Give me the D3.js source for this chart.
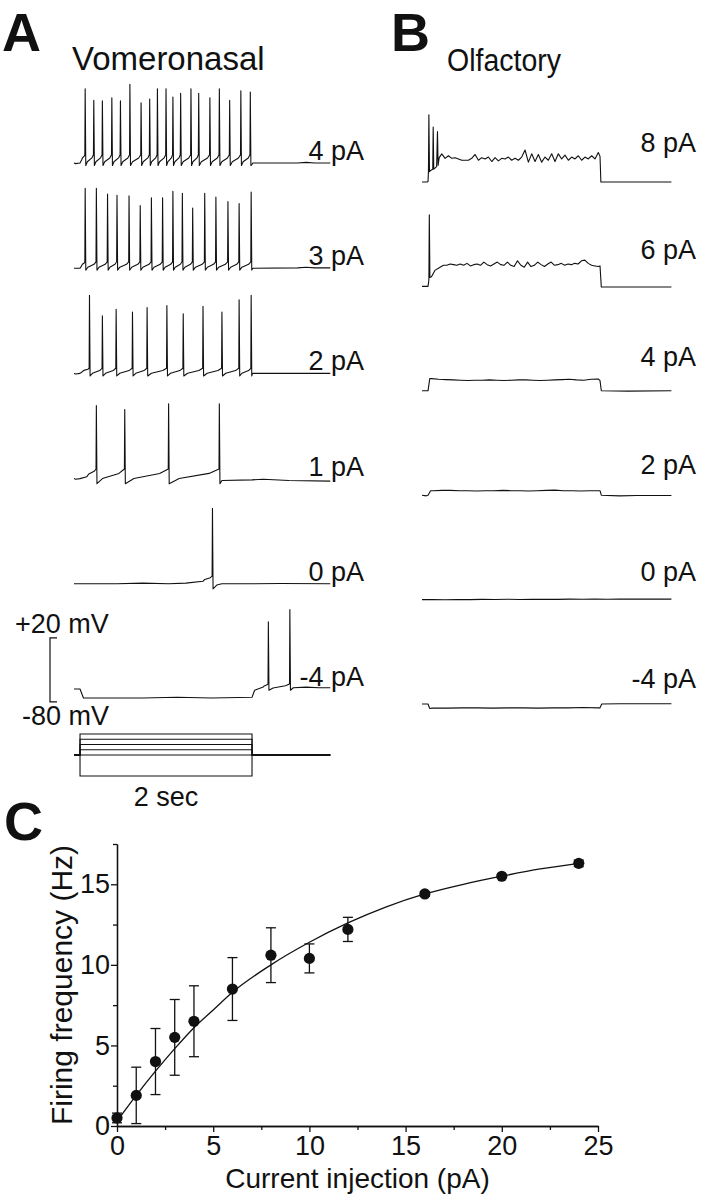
<!DOCTYPE html>
<html>
<head>
<meta charset="utf-8">
<script src="https://cdn.jsdelivr.net/npm/d3@7"></script>
<style>
  body { margin: 0; background: #fff; }
  svg { display: block; }
  text { font-family: "Liberation Sans", Arial, Helvetica, sans-serif; fill: #111; }
</style>
</head>
<body>
<svg id="fig" width="702" height="1199"></svg>
<script>
// ---------- shared protocol values ----------
const restV = -60;             // mV
const stepOn = 0.07, stepOff = 2.07, traceEnd = 2.98;   // s

// ---------- Panel A: vomeronasal neuron ----------
const vnoLabels = ["4 pA", "3 pA", "2 pA", "1 pA", "0 pA", "-4 pA"];
const vnoCurrents = [4, 3, 2, 1, 0, -4];

const vno4Times = [0.13, 0.23, 0.33, 0.44, 0.54, 0.65, 0.78, 0.88, 0.97, 1.07, 1.15, 1.24, 1.36, 1.45, 1.58, 1.69, 1.81, 1.94, 2.05];
const vno4Peaks = [56, 38, 37, 42, 37, 63, 34, 40, 56, 56, 43, 49, 56, 49, 42, 56, 38, 53, 51];
const vno3Times = [0.13, 0.26, 0.39, 0.50, 0.64, 0.77, 0.90, 1.03, 1.15, 1.26, 1.38, 1.52, 1.65, 1.79, 1.92, 2.06];
const vno3Peaks = [65, 65, 56, 54, 53, 38, 50, 50, 60, 57, 34, 57, 51, 44, 41, 59];
const vno2Times = [0.18, 0.33, 0.49, 0.68, 0.85, 1.08, 1.27, 1.50, 1.72, 1.92, 2.06];
const vno2Peaks = [62, 30, 40, 36, 43, 46, 33, 45, 36, 55, 62];
const vno1Times = [0.26, 0.59, 1.10, 1.69];
const vno1Peaks = [54, 48, 57, 57];
const vno0Times = [1.61];
const vno0Peaks = [58];
const vnoN4Times = [2.26, 2.51];
const vnoN4Peaks = [45, 64];

const vnoTrough = [-64, -63, -64, -68, -68, -62];
const vnoThreshold = [-47, -50, -52, -45, -48, -52];

// membrane potential before first spike / after last spike, [s, mV]
const vno4Pre = [[0.02, -61], [0.07, -60], [0.09, -55]];
const vno3Pre = [[0.07, -60], [0.09, -56]];
const vno2Pre = [[0.02, -61], [0.07, -60], [0.1, -57]];
const vno1Pre = [[0.02, -61], [0.07, -60], [0.15, -57]];
const vno0Pre = [[0.5, -60], [0.8, -59], [1.1, -60], [1.3, -59], [1.5, -56]];
const vnoN4Pre = [[0.07, -60], [0.11, -74], [0.8, -74], [1.2, -73], [1.6, -74], [2.07, -73], [2.1, -62], [2.2, -57]];
const vno4Tail = [[2.07, -62], [2.08, -60], [2.6, -60], [2.7, -59], [2.8, -60], [2.98, -60]];
const vno3Tail = [[2.07, -62], [2.08, -60], [2.6, -59.5], [2.7, -58.5], [2.8, -59.5], [2.98, -59.5]];
const vno2Tail = [[2.07, -62], [2.08, -60], [2.5, -60], [2.98, -60]];
const vno1Tail = [[1.72, -63], [2.07, -62], [2.2, -61], [2.5, -63], [2.98, -64]];
const vno0Tail = [[1.66, -62], [1.72, -60], [2.0, -60], [2.4, -59.5], [2.98, -60]];
const vnoN4Tail = [[2.55, -58], [2.7, -57], [2.85, -58], [2.98, -58]];

// ---------- Panel B: olfactory neuron ----------
const olfLabels = ["8 pA", "6 pA", "4 pA", "2 pA", "0 pA", "-4 pA"];

const olf8Early = [[0.06, -60], [0.07, -59], [0.075, -44], [0.08, 45], [0.087, -44], [0.1, -42], [0.125, -40], [0.13, 26], [0.137, -40], [0.17, -36], [0.18, 19], [0.187, -34], [0.2, -22]];
const olf8Plateau = [-16, -23, -19, -23, -22, -24, -26, -26, -26, -23, -17, -26, -22, -24, -21, -28, -22, -27, -23, -24, -21, -26, -23, -26, -21, -10, -29, -16, -28, -17, -29, -21, -26, -16, -28, -16, -24, -18, -26, -21, -24, -19, -26, -21, -24, -19, -24, -14];
const olf8Tail = [[2.07, -20], [2.08, -60], [2.9, -60]];

const olf6Early = [[0.07, -60], [0.08, -50], [0.085, 52], [0.092, -46], [0.11, -45], [0.15, -35]];
const olf6Plateau = [-30, -27, -27, -25, -26, -27, -25, -27, -24, -28, -26, -25, -27, -22, -26, -28, -25, -22, -26, -27, -22, -27, -29, -20, -27, -30, -22, -29, -27, -22, -26, -29, -25, -22, -27, -26, -24, -27, -25, -26, -24, -25, -20, -19, -24, -27, -28, -29];
const olf6Tail = [[2.07, -28], [2.085, -61], [2.9, -61]];

const olf4Early = [[0.07, -60], [0.09, -41]];
const olf4Plateau = [-41, -42, -42.5, -43, -43.5, -44, -43.5, -43.5, -43, -43.5, -44, -43.5, -43, -43, -43.5, -44, -43.5, -43, -42.5, -42, -43, -43.5, -42, -41.5];
const olf4Tail = [[2.07, -44], [2.085, -60], [2.4, -60.5], [2.9, -60]];

const olf2Early = [[0.05, -61], [0.07, -60], [0.1, -53]];
const olf2Plateau = [-53, -52.5, -52.5, -53, -53, -53.5, -53, -53, -52.5, -53, -53, -53.5, -53, -52.5, -52, -53, -53, -53.5, -53, -53];
const olf2Tail = [[2.07, -53], [2.085, -60], [2.3, -61], [2.5, -60.5], [2.9, -60.5]];

const olf0Early = [[0.07, -60]];
const olf0Plateau = [-60, -60.3, -59.8, -60, -59.6, -59.9, -59.5, -59.8, -59.6, -59.4, -59.7, -59.3, -59.5, -59.2, -59.5, -59.2];
const olf0Tail = [[2.5, -59.3], [2.9, -59.2]];

const olfN4Early = [[0.07, -60], [0.09, -67]];
const olfN4Plateau = [-66.5, -66.5, -66, -66, -66.5, -66, -66, -66.5, -66, -66, -65.5, -66];
const olfN4Tail = [[2.07, -66], [2.09, -60], [2.3, -59.5], [2.9, -59.5]];

// ---------- Panel C: f-I relation ----------
const currents = [0, 1, 2, 3, 4, 6, 8, 10, 12, 16, 20, 24];
const freqMean = [0.5, 1.9, 4.0, 5.5, 6.5, 8.5, 10.6, 10.4, 12.2, 14.4, 15.5, 16.3];
const freqErr = [0.3, 1.75, 2.05, 2.35, 2.2, 1.95, 1.7, 0.9, 0.75, 0.15, 0.1, 0.2];
const fitX = [0, 1, 2, 3, 4, 5, 6, 8, 10, 12, 14, 16, 18, 20, 22, 24];
const fitY = [0.3, 1.9, 3.4, 4.8, 6.1, 7.2, 8.3, 10.0, 11.4, 12.6, 13.6, 14.4, 15.0, 15.5, 15.95, 16.3];
const xTicks = [0, 5, 10, 15, 20, 25];
const xMinor = [2.5, 7.5, 12.5, 17.5, 22.5];
const yTicks = [0, 5, 10, 15];
const yMinor = [2.5, 7.5, 12.5, 17.5];

// =====================================================
const svg = d3.select("#fig");
const ink = "#111";

// build a spiking trace: ramps between spikes, fast spike, after-hyperpolarization
function spikeTrain(times, peaks, trough, thr, pre, tail) {
  const pts = [[0, restV], ...pre];
  let last = pts[pts.length - 1];
  times.forEach((t, i) => {
    const t0 = last[0], v0 = last[1], t1 = t - 0.004;
    const dv = thr - v0, span = t1 - t0;
    if (span > 0.02) pts.push([t0 + span * 0.2, v0 + dv * 0.35], [t0 + span * 0.8, v0 + dv * 0.7]);
    pts.push([t1, thr], [t, peaks[i]], [t + 0.007, trough]);
    last = [t + 0.007, trough];
  });
  return pts.concat(tail);
}

// build a plateau trace from evenly sampled readings
function plateauTrace(early, plateau, tail, t0, t1) {
  const n = plateau.length;
  const samples = plateau.map((v, i) => [t0 + i * (t1 - t0) / (n - 1), v]);
  return [[0, restV], ...early, ...samples, ...tail];
}

const vScale = d3.scaleLinear().domain([-60, 40]).range([0, -64]);

// ---- panel A ----
const tA = d3.scaleLinear().domain([0, 3]).range([74, 332]);
const rowA = d3.scalePoint().domain(vnoLabels).range([163, 689]);

const vnoData = [
  spikeTrain(vno4Times, vno4Peaks, vnoTrough[0], vnoThreshold[0], vno4Pre, vno4Tail),
  spikeTrain(vno3Times, vno3Peaks, vnoTrough[1], vnoThreshold[1], vno3Pre, vno3Tail),
  spikeTrain(vno2Times, vno2Peaks, vnoTrough[2], vnoThreshold[2], vno2Pre, vno2Tail),
  spikeTrain(vno1Times, vno1Peaks, vnoTrough[3], vnoThreshold[3], vno1Pre, vno1Tail),
  spikeTrain(vno0Times, vno0Peaks, vnoTrough[4], vnoThreshold[4], vno0Pre, vno0Tail),
  spikeTrain(vnoN4Times, vnoN4Peaks, vnoTrough[5], vnoThreshold[5], vnoN4Pre, vnoN4Tail)
];

const gA = svg.append("g");
vnoData.forEach((pts, i) => {
  const y0 = rowA(vnoLabels[i]);
  const line = d3.line().x(d => tA(d[0])).y(d => y0 + vScale(d[1]));
  gA.append("path").attr("d", line(pts))
    .attr("fill", "none").attr("stroke", ink).attr("stroke-width", 1.1).attr("stroke-linejoin", "round");
  gA.append("text").attr("x", 364).attr("y", y0 - 3)
    .attr("text-anchor", "end").attr("font-size", 27).text(vnoLabels[i]);
});

// voltage scale bar (+20 / -80 mV) beside the -4 pA trace
const barRow = rowA("-4 pA");
const barTop = barRow + vScale(20), barBot = barRow + vScale(-80);
gA.append("path")
  .attr("d", `M57,${barTop}H50V${barBot}H57`)
  .attr("fill", "none").attr("stroke", ink).attr("stroke-width", 1.2);
gA.append("text").attr("x", 15).attr("y", barTop - 5).attr("font-size", 27).text("+20 mV");
gA.append("text").attr("x", 22).attr("y", barBot + 23).attr("font-size", 27).text("-80 mV");

// current step protocol
const iScale = d3.scaleLinear().domain([-4, 4]).range([776, 734]);
const stimLine = d3.line().x(d => tA(d[0])).y(d => iScale(d[1]));
vnoCurrents.forEach(I => {
  gA.append("path")
    .attr("d", stimLine([[0, 0], [stepOn, 0], [stepOn, I], [stepOff, I], [stepOff, 0], [traceEnd, 0]]))
    .attr("fill", "none").attr("stroke", ink).attr("stroke-width", 1.1);
});
gA.append("text").attr("x", (tA(stepOn) + tA(stepOff)) / 2).attr("y", 806)
  .attr("text-anchor", "middle").attr("font-size", 27).text("2 sec");

gA.append("text").attr("x", 72).attr("y", 70).attr("font-size", 33).text("Vomeronasal");
svg.append("text").attr("x", 2).attr("y", 51).attr("font-size", 54).attr("font-weight", "bold").text("A");

// ---- panel B ----
const tB = d3.scaleLinear().domain([0, 3]).range([422, 680]);
const rowB = d3.scalePoint().domain(olfLabels).range([182, 704]);
const labB = d3.scalePoint().domain(olfLabels).range([152, 688]);

const olfData = [
  plateauTrace(olf8Early, olf8Plateau, olf8Tail, 0.23, 2.05),
  plateauTrace(olf6Early, olf6Plateau, olf6Tail, 0.21, 2.05),
  plateauTrace(olf4Early, olf4Plateau, olf4Tail, 0.11, 2.05),
  plateauTrace(olf2Early, olf2Plateau, olf2Tail, 0.13, 2.05),
  plateauTrace(olf0Early, olf0Plateau, olf0Tail, 0.12, 2.3),
  plateauTrace(olfN4Early, olfN4Plateau, olfN4Tail, 0.12, 2.05)
];

const gB = svg.append("g");
olfData.forEach((pts, i) => {
  const y0 = rowB(olfLabels[i]);
  const line = d3.line().x(d => tB(d[0])).y(d => y0 + vScale(d[1]));
  gB.append("path").attr("d", line(pts))
    .attr("fill", "none").attr("stroke", ink).attr("stroke-width", 1.1).attr("stroke-linejoin", "round");
  gB.append("text").attr("x", 696).attr("y", labB(olfLabels[i]))
    .attr("text-anchor", "end").attr("font-size", 27).text(olfLabels[i]);
});
gB.append("text").attr("x", 447).attr("y", 71).attr("font-size", 31)
  .attr("textLength", 114).attr("lengthAdjust", "spacingAndGlyphs").text("Olfactory");
svg.append("text").attr("x", 391).attr("y", 51).attr("font-size", 54).attr("font-weight", "bold").text("B");

// ---- panel C ----
const x = d3.scaleLinear().domain([0, 25]).range([117, 598]);
const y = d3.scaleLinear().domain([0, 17.5]).range([1126, 844]);
const gC = svg.append("g");

function styleAxis(g) {
  g.selectAll("path,line").attr("stroke", ink).attr("stroke-width", 1.3);
  g.selectAll("text").attr("font-size", 27).attr("fill", ink)
    .attr("font-family", '"Liberation Sans", Arial, sans-serif');
}
gC.append("g").attr("transform", "translate(0,1126)")
  .call(d3.axisBottom(x).tickValues(xTicks).tickSize(6).tickSizeOuter(0).tickPadding(4))
  .call(styleAxis);
gC.append("g").attr("transform", "translate(0,1126)")
  .call(d3.axisBottom(x).tickValues(xMinor).tickSize(4).tickSizeOuter(0).tickFormat(""))
  .call(styleAxis);
gC.append("g").attr("transform", "translate(117,0)")
  .call(d3.axisLeft(y).tickValues(yTicks).tickSize(6).tickSizeOuter(0).tickPadding(1))
  .call(styleAxis);
gC.append("g").attr("transform", "translate(117,0)")
  .call(d3.axisLeft(y).tickValues(yMinor).tickSize(4).tickSizeOuter(0).tickFormat(""))
  .call(styleAxis);

// fitted curve
gC.append("path")
  .attr("d", d3.line().x(d => x(d)).y((d, i) => y(fitY[i])).curve(d3.curveMonotoneX)(fitX))
  .attr("fill", "none").attr("stroke", ink).attr("stroke-width", 1.3);

// error bars
const eb = gC.selectAll("g.eb").data(currents).join("g").attr("class", "eb");
eb.append("line")
  .attr("x1", d => x(d)).attr("x2", d => x(d))
  .attr("y1", (d, i) => y(freqMean[i] + freqErr[i])).attr("y2", (d, i) => y(freqMean[i] - freqErr[i]))
  .attr("stroke", ink).attr("stroke-width", 1.3);
[1, -1].forEach(s => {
  eb.append("line")
    .attr("x1", d => x(d) - 5).attr("x2", d => x(d) + 5)
    .attr("y1", (d, i) => y(freqMean[i] + s * freqErr[i])).attr("y2", (d, i) => y(freqMean[i] + s * freqErr[i]))
    .attr("stroke", ink).attr("stroke-width", 1.3);
});
gC.selectAll("circle.pt").data(currents).join("circle").attr("class", "pt")
  .attr("cx", d => x(d)).attr("cy", (d, i) => y(freqMean[i])).attr("r", 5.6).attr("fill", ink);

gC.append("text").attr("x", (x(0) + x(25)) / 2).attr("y", 1188)
  .attr("text-anchor", "middle").attr("font-size", 28).text("Current injection (pA)");
gC.append("text").attr("transform", `translate(72,${(y(0) + y(17.5)) / 2}) rotate(-90)`)
  .attr("text-anchor", "middle").attr("font-size", 30).text("Firing frequency (Hz)");
svg.append("text").attr("x", 4).attr("y", 840).attr("font-size", 54).attr("font-weight", "bold").text("C");
</script>
</body>
</html>
